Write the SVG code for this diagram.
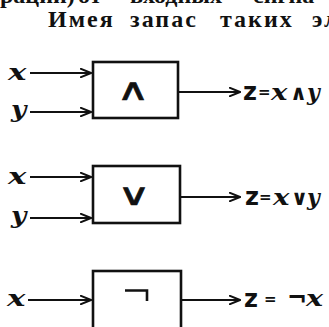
<svg xmlns="http://www.w3.org/2000/svg" width="329" height="327" viewBox="0 0 329 327">
<style>
.hdr{font-family:"Liberation Serif",serif;font-weight:bold;font-size:24px;fill:#111}
.box{fill:#fff;stroke:#111;stroke-width:2.6}
.ln{stroke:#111;stroke-width:2;fill:none}
.var{font-family:"DejaVu Serif",serif;font-style:italic;font-weight:bold;font-size:22px;fill:#111}
.op{font-family:"DejaVu Sans",sans-serif;font-size:30px;fill:#111;stroke:#111;stroke-width:0.6}
.f{font-family:"DejaVu Sans",sans-serif;font-weight:bold;font-size:24px;fill:#111}
.eq{font-family:"DejaVu Sans",sans-serif;font-weight:bold;font-size:15px;fill:#111}
.fo{font-family:"DejaVu Sans",sans-serif;font-weight:bold;font-size:21px;fill:#111}
</style>
<defs>
<marker id="ah" viewBox="0 0 12 10" refX="11" refY="5" markerWidth="12" markerHeight="10" markerUnits="userSpaceOnUse" orient="auto">
<path d="M0,0.5 L11,5 L0,9.5" fill="none" stroke="#111" stroke-width="2"/>
</marker>
</defs>
<text class="hdr" y="3"><tspan x="0">рации)</tspan><tspan x="78">от</tspan><tspan x="130">входных</tspan><tspan x="253">сигна</tspan></text>
<text class="hdr" y="27" letter-spacing="2"><tspan x="48">Имея</tspan><tspan x="130">запас</tspan><tspan x="220">таких</tspan><tspan x="312">эле</tspan></text>
<g id="connectors">
<line class="ln" x1="30" y1="73" x2="91" y2="73" marker-end="url(#ah)"/>
<line class="ln" x1="30" y1="112" x2="91" y2="112" marker-end="url(#ah)"/>
<line class="ln" x1="179" y1="92" x2="240" y2="92" marker-end="url(#ah)"/>
<line class="ln" x1="30" y1="177" x2="91" y2="177" marker-end="url(#ah)"/>
<line class="ln" x1="30" y1="218" x2="91" y2="218" marker-end="url(#ah)"/>
<line class="ln" x1="181" y1="197" x2="240" y2="197" marker-end="url(#ah)"/>
<line class="ln" x1="28" y1="300" x2="91" y2="300" marker-end="url(#ah)"/>
<line class="ln" x1="182" y1="300" x2="240" y2="300" marker-end="url(#ah)"/>
</g>
<g id="and">
<rect class="box" x="93" y="62" width="85" height="56"/>
<text class="op" text-anchor="middle" transform="translate(133,100) scale(1.5,1)">∧</text>
<text class="var" transform="translate(8,80) scale(1.4,1)">x</text>
<text class="var" transform="translate(11,117) scale(1.2,1)">y</text>
<text class="f" x="243" y="100">z</text><text class="eq" x="258" y="97">=</text>
<text class="var" transform="translate(271,100) scale(1.25,1)">x</text>
<text class="fo" x="290" y="100">∧</text>
<text class="var" x="307" y="100">y</text>
</g>
<g id="or">
<rect class="box" x="93" y="166" width="87" height="57"/>
<text class="op" text-anchor="middle" transform="translate(134,205) scale(1.5,1)">∨</text>
<text class="var" transform="translate(8,184) scale(1.4,1)">x</text>
<text class="var" transform="translate(11,223) scale(1.2,1)">y</text>
<text class="f" x="245" y="205">z</text><text class="eq" x="259" y="202">=</text>
<text class="var" transform="translate(273,205) scale(1.25,1)">x</text>
<text class="fo" x="291" y="205">∨</text>
<text class="var" x="307" y="205">y</text>
</g>
<g id="not">
<rect class="box" x="93" y="271" width="88" height="60"/>
<path d="M125,290.5 H147 V301" fill="none" stroke="#111" stroke-width="2.6"/>
<text class="var" transform="translate(7,306) scale(1.4,1)">x</text>
<text class="f" x="244" y="307">z</text><text class="eq" x="264" y="304" font-size="19">=</text>
<text class="f" x="287" y="306">¬</text>
<text class="var" transform="translate(306,306) scale(1.3,1)">x</text>
</g>
</svg>
